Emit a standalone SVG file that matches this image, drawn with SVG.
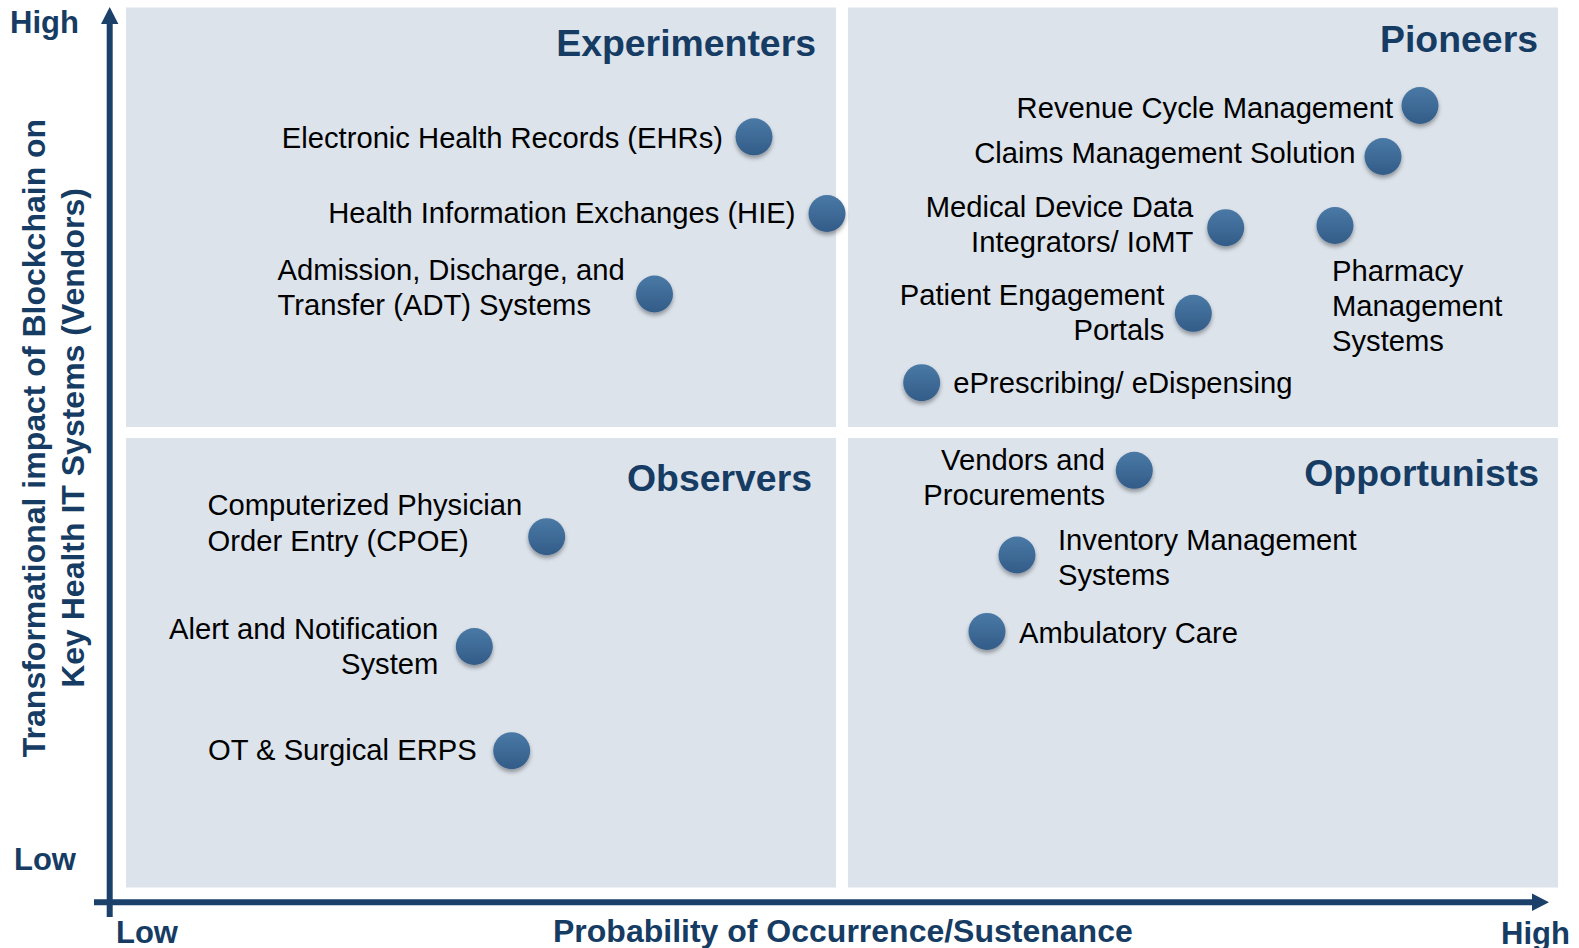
<svg xmlns="http://www.w3.org/2000/svg" width="1579" height="948" viewBox="0 0 1579 948">
  <defs>
    <linearGradient id="dotFill" x1="0" y1="0" x2="0" y2="1">
      <stop offset="0" stop-color="#4a79a6"/>
      <stop offset="1" stop-color="#335c88"/>
    </linearGradient>
    <filter id="dotShadow" x="-50%" y="-50%" width="200%" height="200%">
      <feDropShadow dx="0" dy="3" stdDeviation="2" flood-color="#000" flood-opacity="0.35"/>
    </filter>
    <style>
      .panel { fill: #dce3eb; }
      .dot { fill: url(#dotFill); filter: url(#dotShadow); }
      .lbl { font-family: "Liberation Sans", Arial, sans-serif; font-size: 29.2px; fill: #000; }
      .end { text-anchor: end; }
      .quad { font-family: "Liberation Sans", Arial, sans-serif; font-size: 37.4px; font-weight: bold; fill: #163c64; text-anchor: end; }
      .axislbl { font-family: "Liberation Sans", Arial, sans-serif; font-size: 31px; font-weight: bold; fill: #163c64; }
      .axistitle { font-family: "Liberation Sans", Arial, sans-serif; font-size: 32px; font-weight: bold; fill: #163c64; }
      .axis { stroke: #1b416b; stroke-width: 6; fill: none; }
      .head { fill: #1b416b; }
    </style>
  </defs>

  <rect width="1579" height="948" fill="#ffffff"/>

  <!-- quadrant panels -->
  <g id="quadrants">
    <rect class="panel" x="126" y="7.5" width="710" height="419.5"/>
    <rect class="panel" x="848" y="7.5" width="710" height="419.5"/>
    <rect class="panel" x="126" y="438" width="710" height="449.5"/>
    <rect class="panel" x="848" y="438" width="710" height="449.5"/>
    <text class="quad" x="816" y="56">Experimenters</text>
    <text class="quad" x="1538" y="52">Pioneers</text>
    <text class="quad" x="812" y="491">Observers</text>
    <text class="quad" x="1539" y="486">Opportunists</text>
  </g>

  <!-- axes -->
  <g id="connectors">
    <line class="axis" x1="109.7" y1="917" x2="109.7" y2="22"/>
    <polygon class="head" points="109.7,7 101,24 118.4,24"/>
    <line class="axis" x1="94" y1="902.3" x2="1534" y2="902.3"/>
    <polygon class="head" points="1549,902.3 1532,893.5 1532,911"/>
  </g>

  <!-- axis labels -->
  <g id="axis-labels">
    <text class="axislbl" x="10" y="33">High</text>
    <text class="axislbl" x="14" y="870">Low</text>
    <text class="axislbl" x="116" y="942.5">Low</text>
    <text class="axislbl" x="1501" y="944">High</text>
    <text class="axistitle" x="553" y="942">Probability of Occurrence/Sustenance</text>
    <text class="axistitle" text-anchor="middle" transform="translate(45,438) rotate(-90)">Transformational impact of Blockchain on</text>
    <text class="axistitle" text-anchor="middle" transform="translate(83.5,438) rotate(-90)">Key Health IT Systems (Vendors)</text>
  </g>

  <!-- Experimenters -->
  <g id="node-ehr">
    <circle class="dot" cx="754" cy="136.8" r="18.5"/>
    <text class="lbl end" x="723" y="148">Electronic Health Records (EHRs)</text>
  </g>
  <g id="node-hie">
    <circle class="dot" cx="827" cy="213.5" r="18.5"/>
    <text class="lbl end" x="795.5" y="223">Health Information Exchanges (HIE)</text>
  </g>
  <g id="node-adt">
    <circle class="dot" cx="654.5" cy="294" r="18.5"/>
    <text class="lbl" x="277.5" y="280">Admission, Discharge, and</text>
    <text class="lbl" x="277.5" y="315">Transfer (ADT) Systems</text>
  </g>

  <!-- Pioneers -->
  <g id="node-revenue">
    <circle class="dot" cx="1420" cy="105.5" r="18.5"/>
    <text class="lbl end" x="1393" y="118">Revenue Cycle Management</text>
  </g>
  <g id="node-claims">
    <circle class="dot" cx="1383" cy="156.5" r="18.5"/>
    <text class="lbl end" x="1355.5" y="162.5">Claims Management Solution</text>
  </g>
  <g id="node-medical-device">
    <circle class="dot" cx="1225.7" cy="227.7" r="18.5"/>
    <text class="lbl end" x="1193.3" y="216.7">Medical Device Data</text>
    <text class="lbl end" x="1193.3" y="251.7">Integrators/ IoMT</text>
  </g>
  <g id="node-pharmacy">
    <circle class="dot" cx="1335" cy="225.5" r="18.5"/>
    <text class="lbl" x="1332" y="280.5">Pharmacy</text>
    <text class="lbl" x="1332" y="315.5">Management</text>
    <text class="lbl" x="1332" y="350.5">Systems</text>
  </g>
  <g id="node-patient-engagement">
    <circle class="dot" cx="1193.3" cy="313.3" r="18.5"/>
    <text class="lbl end" x="1164.3" y="304.7">Patient Engagement</text>
    <text class="lbl end" x="1164.3" y="339.5">Portals</text>
  </g>
  <g id="node-eprescribing">
    <circle class="dot" cx="921.7" cy="382.7" r="18.5"/>
    <text class="lbl" x="953.3" y="393.3">ePrescribing/ eDispensing</text>
  </g>

  <!-- Observers -->
  <g id="node-cpoe">
    <circle class="dot" cx="546.7" cy="536.7" r="18.5"/>
    <text class="lbl" x="207.5" y="515">Computerized Physician</text>
    <text class="lbl" x="207.5" y="550.5">Order Entry (CPOE)</text>
  </g>
  <g id="node-alert">
    <circle class="dot" cx="474.3" cy="646.5" r="18.5"/>
    <text class="lbl end" x="438.3" y="639.3">Alert and Notification</text>
    <text class="lbl end" x="438.3" y="674.3">System</text>
  </g>
  <g id="node-ot">
    <circle class="dot" cx="511.7" cy="750.7" r="18.5"/>
    <text class="lbl end" x="476.7" y="760">OT &amp; Surgical ERPS</text>
  </g>

  <!-- Opportunists -->
  <g id="node-vendors">
    <circle class="dot" cx="1134.3" cy="470.3" r="18.5"/>
    <text class="lbl end" x="1105" y="470">Vendors and</text>
    <text class="lbl end" x="1105" y="505">Procurements</text>
  </g>
  <g id="node-inventory">
    <circle class="dot" cx="1017" cy="555" r="18.5"/>
    <text class="lbl" x="1058" y="550">Inventory Management</text>
    <text class="lbl" x="1058" y="585">Systems</text>
  </g>
  <g id="node-ambulatory">
    <circle class="dot" cx="987" cy="631.4" r="18.5"/>
    <text class="lbl" x="1019" y="642.5">Ambulatory Care</text>
  </g>
</svg>
